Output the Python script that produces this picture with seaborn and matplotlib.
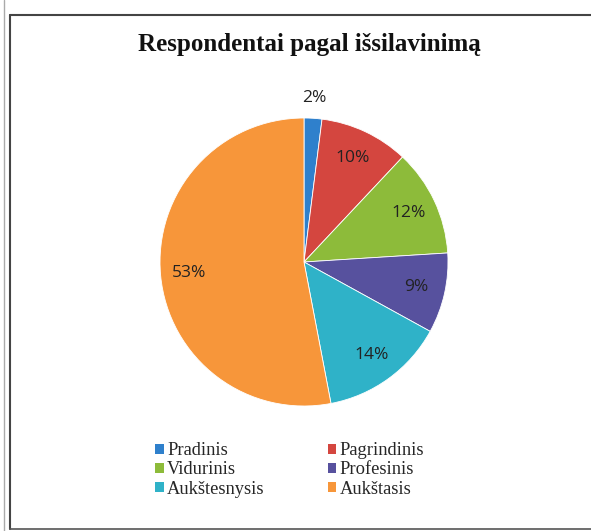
import matplotlib
matplotlib.use("Agg")
import matplotlib.pyplot as plt
import seaborn as sns
import numpy as np
from matplotlib.lines import Line2D
from matplotlib.patches import Patch

categories = ["Pradinis", "Pagrindinis", "Vidurinis", "Profesinis", "Aukštesnysis", "Aukštasis"]
values = [2, 10, 12, 9, 14, 53]
colors = ["#2F80CC", "#D4463F", "#8DBB3A", "#57519E", "#2FB2C8", "#F7963A"]
title = "Respondentai pagal išsilavinimą"

sns.set_theme(style="white")
W, H = 591, 531
fig = plt.figure(figsize=(W / 100, H / 100), dpi=100)
fig.patch.set_facecolor("white")

def fx(px):
    return px / W

def fy(py):
    return 1 - py / H

# frame lines
fig.add_artist(Line2D([fx(10), fx(591)], [fy(15), fy(15)], color="#444444", lw=1.5))
fig.add_artist(Line2D([fx(10), fx(10)], [fy(15), fy(529)], color="#444444", lw=1.5))
fig.add_artist(Line2D([fx(10), fx(591)], [fy(529), fy(529)], color="#555555", lw=1.2))
fig.add_artist(Line2D([fx(4), fx(4)], [fy(0), fy(531)], color="#aaaaaa", lw=1.0))

cx, cy, r = 304, 262, 144
ax = fig.add_axes([fx(cx - r), fy(cy + r), 2 * r / W, 2 * r / H])
wedges, texts, autotexts = ax.pie(
    values,
    colors=colors,
    startangle=90,
    counterclock=False,
    autopct=lambda p: f"{p:.0f}%",
    pctdistance=0.8,
    wedgeprops=dict(linewidth=0.6, edgecolor="white"),
    textprops=dict(fontsize=12.5, family="Open Sans", color="#222222"),
)
ax.set_xlim(-1, 1)
ax.set_ylim(-1, 1)
ax.axis("off")

# small slice label placed outside the pie
w0 = wedges[0]
ang = np.deg2rad((w0.theta1 + w0.theta2) / 2)
autotexts[0].set_position((1.14 * np.cos(ang), 1.14 * np.sin(ang)))

fig.text(fx(309), fy(45), title, ha="center", va="center",
         fontsize=18, fontweight="bold", family="Liberation Serif", color="#111111")

order = [0, 2, 4, 1, 3, 5]
handles = [Patch(facecolor=colors[i], edgecolor="none") for i in order]
labels = [categories[i] for i in order]
leg = fig.legend(handles, labels, ncol=2, loc="center left",
                 bbox_to_anchor=(fx(146), fy(470)), frameon=False,
                 prop=dict(family="Liberation Serif", size=13.3),
                 handlelength=0.45, handleheight=0.45, handletextpad=0.2,
                 columnspacing=3.4, labelspacing=0.12, borderpad=0)

fig.savefig("out.png", dpi=100, facecolor="white")
